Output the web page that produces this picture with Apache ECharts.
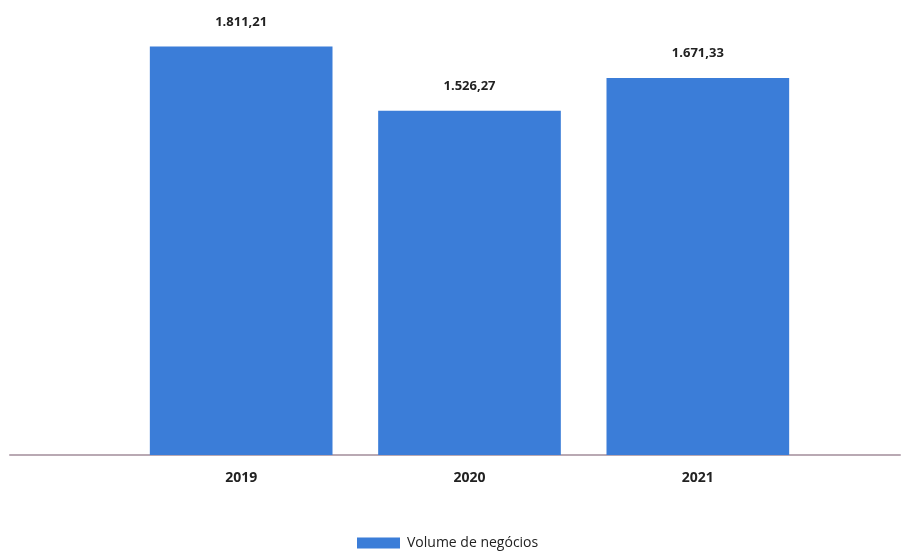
<!DOCTYPE html>
<html lang="pt">
  <head>
    <meta charset="utf-8" />
    <title>Volume de negócios</title>
  </head>
  <body style="height: 100%; margin: 0">
    <div id="container" style="width: 918px; height: 556px"></div>

    <script
      type="text/javascript"
      src="https://fastly.jsdelivr.net/npm/echarts@6/dist/echarts.min.js"
    ></script>

    <script type="text/javascript">
      var years = ["2019", "2020", "2021"];
      var volume = [1811.21, 1526.27, 1671.33];
      var seriesName = "Volume de negócios";

      function ptNumber(v) {
        var parts = v.toFixed(2).split(".");
        return parts[0].replace(/\B(?=(\d{3})+(?!\d))/g, ".") + "," + parts[1];
      }

      var dom = document.getElementById("container");
      var myChart = echarts.init(dom, null, { renderer: "canvas" });

      var option = {
        backgroundColor: "#ffffff",
        textStyle: { fontFamily: "Open Sans" },
        legend: {
          data: [seriesName],
          icon: "rect",
          bottom: 1,
          left: 352,
          itemWidth: 43,
          itemHeight: 11,
          itemGap: 10,
          textStyle: { fontSize: 14, color: "#222", padding: [0, 0, 0, 2] },
        },
        grid: [
          { left: 127, right: 106, top: 4, bottom: 101 },
          { left: 10, right: 18, top: 4, bottom: 101 },
        ],
        xAxis: [
          {
            type: "category",
            gridIndex: 0,
            data: years,
            axisLine: { show: false },
            axisTick: { show: false },
            axisLabel: {
              fontSize: 14,
              fontWeight: "bold",
              color: "#222",
              margin: 16,
            },
          },
          {
            type: "category",
            gridIndex: 1,
            data: [],
            axisLine: { show: true, lineStyle: { color: "#b9a9b3", width: 2 } },
            axisTick: { show: false },
            axisLabel: { show: false },
          },
        ],
        yAxis: [
          {
            type: "value",
            gridIndex: 0,
            min: 0,
            max: 2000,
            show: false,
          },
          {
            type: "value",
            gridIndex: 1,
            show: false,
          },
        ],
        series: [
          {
            name: seriesName,
            type: "bar",
            data: volume,
            barWidth: "80%",
            itemStyle: { color: "#3b7dd8" },
            label: {
              show: true,
              position: "top",
              distance: 18,
              fontSize: 13,
              fontWeight: "bold",
              color: "#222",
              formatter: function (p) {
                return ptNumber(p.value);
              },
            },
          },
        ],
      };

      myChart.setOption(option);
      window.addEventListener("resize", myChart.resize);
    </script>
  </body>
</html>
